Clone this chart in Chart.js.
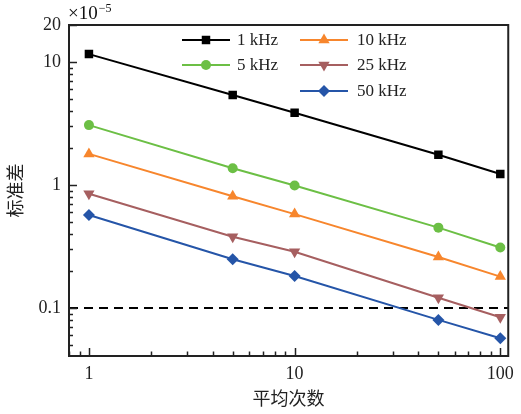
<!DOCTYPE html>
<html>
<head>
<meta charset="utf-8">
<script src="https://cdn.jsdelivr.net/npm/chart.js@4.4.1/dist/chart.umd.min.js"></script>
<style>
  html, body { margin: 0; padding: 0; background: #fff; }
  #wrap { width: 521px; height: 414px; }
</style>
</head>
<body>
<div id="wrap"><canvas id="c" width="521" height="414"></canvas></div>
<script>
// Averaging counts (x) and standard deviation in units of 1e-5 (y)
const averages = [1, 5, 10, 50, 100];
const seriesLabels = ['1 kHz', '5 kHz', '10 kHz', '25 kHz', '50 kHz'];
const std1k  = [11.6, 5.39, 3.87, 1.76, 1.23];
const std5k  = [3.07, 1.37, 0.99, 0.45, 0.31];
const std10k = [1.79, 0.81, 0.58, 0.26, 0.18];
const std25k = [0.85, 0.38, 0.287, 0.121, 0.084];
const std50k = [0.57, 0.249, 0.182, 0.080, 0.0567];
const xTickValues = [1, 10, 100];
const yTickValues = [0.1, 1, 10, 20];
const thresholdValue = 0.1;

const SERIF = '"Liberation Serif", "Times New Roman", serif';
const CJK = '"Noto Sans CJK SC", "Liberation Serif", serif';
const AXIS = '#222';

const styles = [
  { color: '#000000', pointStyle: 'rect', radius: 6, rotation: 0 },
  { color: '#6cbf45', pointStyle: 'circle', radius: 5, rotation: 0 },
  { color: '#f7862d', pointStyle: 'triangle', radius: 6.5, rotation: 0 },
  { color: '#a65f60', pointStyle: 'triangle', radius: 6.5, rotation: 180 },
  { color: '#2555a8', pointStyle: 'rectRot', radius: 6, rotation: 0 }
];
const seriesValues = [std1k, std5k, std10k, std25k, std50k];

const datasets = seriesValues.map((vals, i) => ({
  label: seriesLabels[i],
  data: averages.map((a, k) => ({ x: a, y: vals[k] })),
  borderColor: styles[i].color,
  backgroundColor: styles[i].color,
  borderWidth: 2,
  pointStyle: styles[i].pointStyle,
  pointRadius: styles[i].radius,
  pointHoverRadius: styles[i].radius,
  pointRotation: styles[i].rotation,
  pointBorderWidth: 0,
  tension: 0
}));

// minor tick positions for the log axes
function minorTicks(min, max) {
  const out = [];
  for (let e = Math.floor(Math.log10(min)); e <= Math.ceil(Math.log10(max)); e++) {
    for (let m = 1; m <= 9; m++) {
      const v = m * Math.pow(10, e);
      if (v >= min * 0.999 && v <= max * 1.001) out.push(v);
    }
  }
  return out;
}

const frameAndTicks = {
  id: 'frameAndTicks',
  beforeDatasetsDraw(chart) {
    const { ctx, chartArea: a, scales: { y } } = chart;
    const py = y.getPixelForValue(thresholdValue);
    ctx.save();
    ctx.strokeStyle = '#000';
    ctx.lineWidth = 2;
    ctx.setLineDash([9, 6]);
    ctx.beginPath();
    ctx.moveTo(a.left, py);
    ctx.lineTo(a.right, py);
    ctx.stroke();
    ctx.restore();
  },
  afterDatasetsDraw(chart) {
    const { ctx, chartArea: a, scales: { x, y } } = chart;
    ctx.save();
    ctx.strokeStyle = AXIS;
    ctx.lineWidth = 1.5;
    // y ticks (inward)
    minorTicks(y.min, y.max).forEach(v => {
      const major = yTickValues.includes(+v.toPrecision(6));
      const p = Math.round(y.getPixelForValue(v)) + 0.5;
      ctx.beginPath();
      ctx.moveTo(a.left, p);
      ctx.lineTo(a.left + (major ? 8 : 4), p);
      ctx.stroke();
    });
    // x ticks (inward)
    minorTicks(x.min, x.max).forEach(v => {
      const major = xTickValues.includes(+v.toPrecision(6));
      const p = Math.round(x.getPixelForValue(v)) + 0.5;
      ctx.beginPath();
      ctx.moveTo(p, a.bottom);
      ctx.lineTo(p, a.bottom - (major ? 8 : 4.5));
      ctx.stroke();
    });
    // frame
    ctx.lineWidth = 2;
    ctx.strokeRect(a.left, a.top, a.right - a.left, a.bottom - a.top);
    // exponent label
    ctx.fillStyle = '#111';
    ctx.textBaseline = 'alphabetic';
    ctx.textAlign = 'left';
    ctx.font = '19px ' + SERIF;
    ctx.fillText('\u00d710', a.left - 1, 19);
    const w = ctx.measureText('\u00d710').width;
    ctx.font = '12px ' + SERIF;
    ctx.fillText('\u22125', a.left - 1 + w + 1, 12);
    ctx.restore();
  }
};

// two-column legend, filled column by column
const lineLegend = {
  id: 'lineLegend',
  afterDraw(chart) {
    const { ctx } = chart;
    const cols = [{ x0: 182, x1: 230, tx: 237 }, { x0: 300, x1: 348, tx: 357 }];
    const rows = [40, 65, 91];
    const slots = [[0, 0], [0, 1], [1, 0], [1, 1], [1, 2]];
    ctx.save();
    chart.data.datasets.forEach((ds, i) => {
      const c = cols[slots[i][0]];
      const ry = rows[slots[i][1]];
      ctx.strokeStyle = ds.borderColor;
      ctx.lineWidth = 2;
      ctx.beginPath();
      ctx.moveTo(c.x0, ry);
      ctx.lineTo(c.x1, ry);
      ctx.stroke();
      ctx.fillStyle = ds.backgroundColor;
      Chart.helpers.drawPoint(ctx, {
        pointStyle: ds.pointStyle,
        rotation: ds.pointRotation,
        radius: ds.pointRadius,
        borderWidth: 0
      }, (c.x0 + c.x1) / 2, ry);
      ctx.fillStyle = '#222';
      ctx.font = '17px ' + SERIF;
      ctx.textAlign = 'left';
      ctx.textBaseline = 'middle';
      ctx.fillText(ds.label, c.tx, ry + 1);
    });
    ctx.restore();
  }
};

new Chart(document.getElementById('c'), {
  type: 'line',
  data: { datasets },
  plugins: [frameAndTicks, lineLegend],
  options: {
    responsive: false,
    animation: false,
    devicePixelRatio: 1,
    layout: { padding: { top: 25, right: 11, left: 0, bottom: 0 } },
    plugins: { legend: { display: false }, tooltip: { enabled: false } },
    scales: {
      x: {
        type: 'logarithmic',
        min: 0.8,
        max: 109.3,
        afterBuildTicks(s) { s.ticks = xTickValues.map(v => ({ value: v })); },
        afterFit(s) { s.height = 58; },
        grid: { display: false, drawTicks: false },
        border: { display: false },
        ticks: {
          callback: v => String(v),
          color: '#222',
          padding: 7,
          maxRotation: 0,
          autoSkip: false,
          font: { family: SERIF, size: 18 }
        },
        title: {
          display: true,
          text: '平均次数',
          color: '#222',
          padding: { top: 0, bottom: 5 },
          font: { family: CJK, size: 18 }
        }
      },
      y: {
        type: 'logarithmic',
        min: 0.0407,
        max: 20,
        afterBuildTicks(s) { s.ticks = yTickValues.map(v => ({ value: v })); },
        afterFit(s) { s.width = 69; },
        grid: { display: false, drawTicks: false },
        border: { display: false },
        ticks: {
          callback: v => String(v),
          color: '#222',
          padding: 8,
          autoSkip: false,
          font: { family: SERIF, size: 18 }
        },
        title: {
          display: true,
          text: '标准差',
          color: '#222',
          padding: { top: 4, bottom: 0 },
          font: { family: CJK, size: 18 }
        }
      }
    }
  }
});
</script>
</body>
</html>
